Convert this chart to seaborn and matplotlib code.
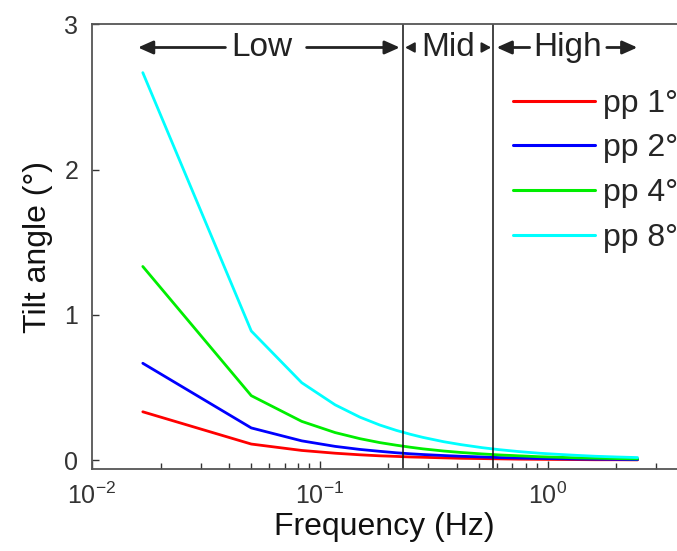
import numpy as np
import pandas as pd
import matplotlib
matplotlib.use("Agg")
import matplotlib.pyplot as plt
import seaborn as sns

# Frequencies (Hz) of the plotted points and tilt amplitude for each pp setting
freq = [0.0167, 0.05, 0.0833, 0.1167, 0.15, 0.1833, 0.2167, 0.25, 0.2833, 0.35,
        0.4167, 0.5167, 0.6167, 0.75, 0.9167, 1.117, 1.35, 1.617, 2.017, 2.483]
pp8 = [2.667, 0.889, 0.533, 0.381, 0.296, 0.242, 0.205, 0.178, 0.157, 0.127,
       0.107, 0.086, 0.072, 0.059, 0.048, 0.040, 0.033, 0.027, 0.022, 0.018]
pp4 = [1.333, 0.444, 0.267, 0.190, 0.148, 0.121, 0.103, 0.089, 0.078, 0.063,
       0.053, 0.043, 0.036, 0.030, 0.024, 0.020, 0.016, 0.014, 0.011, 0.009]
pp2 = [0.667, 0.222, 0.133, 0.095, 0.074, 0.061, 0.051, 0.044, 0.039, 0.032,
       0.027, 0.022, 0.018, 0.015, 0.012, 0.010, 0.008, 0.007, 0.006, 0.004]
pp1 = [0.333, 0.111, 0.067, 0.048, 0.037, 0.030, 0.026, 0.022, 0.020, 0.016,
       0.013, 0.011, 0.009, 0.007, 0.006, 0.005, 0.004, 0.003, 0.003, 0.002]
series_names = ["pp 1°", "pp 2°", "pp 4°", "pp 8°"]
series_colors = ["#ff0000", "#0000ff", "#00ee00", "#00ffff"]

# band boundaries (Hz)
band_edges = [0.233, 0.575]

df = pd.DataFrame({
    "freq": freq * 4,
    "tilt": pp1 + pp2 + pp4 + pp8,
    "series": sum([[n] * len(freq) for n in series_names], []),
})

sns.set_style("white")
plt.rcParams["font.family"] = ["Liberation Sans", "DejaVu Sans"]

fig = plt.figure(figsize=(6.77, 5.51), dpi=100)
ax = fig.add_axes([0.136, 0.149, 0.864, 0.807])

sns.lineplot(data=df, x="freq", y="tilt", hue="series", hue_order=series_names,
             palette=series_colors, linewidth=2, ax=ax)

ax.set_xscale("log")
ax.set_xlim(0.01, 3.7)
ax.set_ylim(-0.06, 3.0)
ax.set_yticks([0, 1, 2, 3])

for xb in band_edges:
    ax.axvline(xb, color="#111111", linewidth=1.1)

# band annotations on top
arrow_kw = dict(arrowstyle="-|>,head_length=0.9,head_width=0.4", color="#222222",
                lw=2.0, shrinkA=0, shrinkB=0)
small_kw = dict(arrowstyle="-|>,head_length=0.55,head_width=0.3", color="#222222",
                lw=1.4, shrinkA=0, shrinkB=0)
ya = 2.84
ax.text(0.0555, ya, "Low", ha="center", va="center", fontsize=24, color="#222222")
ax.annotate("", xy=(0.0159, ya), xytext=(0.0385, ya), arrowprops=arrow_kw)
ax.annotate("", xy=(0.2245, ya), xytext=(0.0875, ya), arrowprops=arrow_kw)
ax.text(0.364, ya, "Mid", ha="center", va="center", fontsize=24, color="#222222")
ax.annotate("", xy=(0.237, ya), xytext=(0.255, ya), arrowprops=small_kw)
ax.annotate("", xy=(0.565, ya), xytext=(0.525, ya), arrowprops=small_kw)
ax.text(1.22, ya, "High", ha="center", va="center", fontsize=24, color="#222222")
ax.annotate("", xy=(0.597, ya), xytext=(0.834, ya), arrowprops=arrow_kw)
ax.annotate("", xy=(2.48, ya), xytext=(1.82, ya), arrowprops=arrow_kw)

ax.set_xlabel("Frequency (Hz)", fontsize=23, color="#111111", labelpad=2)
ax.set_ylabel("Tilt angle (°)", fontsize=23, color="#111111", labelpad=8)

ax.tick_params(axis="both", which="both", direction="in", colors="#333333")
ax.tick_params(axis="x", which="major", length=6, width=1, labelsize=18, pad=10)
ax.tick_params(axis="x", which="minor", length=4, width=1)
ax.tick_params(axis="y", which="major", length=5, width=1, labelsize=18, pad=10)
ax.xaxis.set_ticks_position("bottom")
ax.yaxis.set_ticks_position("left")

for side in ["left", "bottom", "top"]:
    ax.spines[side].set_color("#555555")
    ax.spines[side].set_linewidth(1.3)
ax.spines["right"].set_visible(False)

leg = ax.legend(loc="upper left", bbox_to_anchor=(0.72, 0.855), frameon=False,
                fontsize=23, handlelength=2.56, handletextpad=0.25,
                labelspacing=0.46, borderpad=0, borderaxespad=0)
for line in leg.get_lines():
    line.set_linewidth(2.2)

fig.savefig("out.png", dpi=100)
